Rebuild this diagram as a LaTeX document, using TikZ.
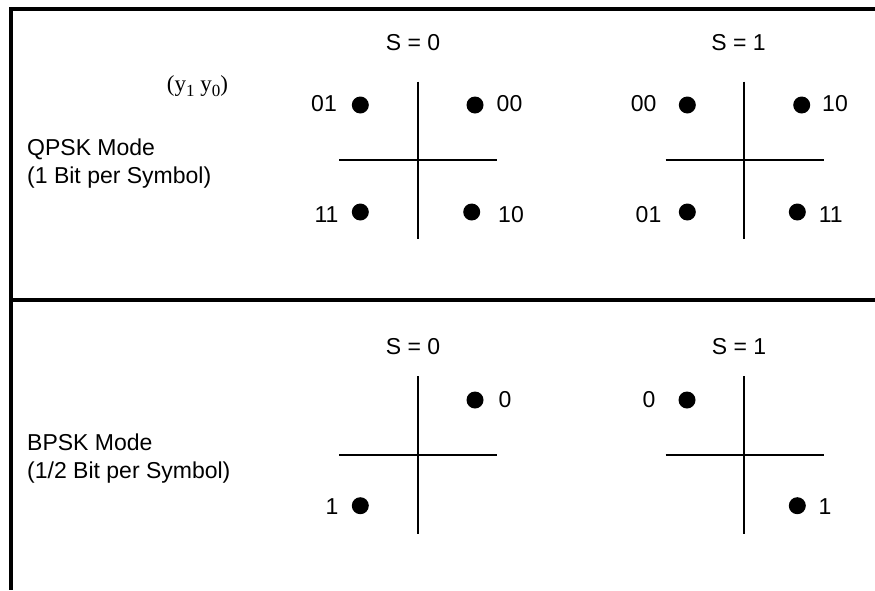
\documentclass[tikz,border=0pt]{standalone}
\usepackage{fontspec}
\setmainfont{Liberation Sans}
\newfontfamily\tnr{Liberation Serif}
\begin{document}
\begin{tikzpicture}[x=1pt,y=-1pt,
  frame/.style={line width=4.4pt},
  axis/.style={line width=2pt},
  dot/.style={circle,fill=black,inner sep=0pt,minimum size=17pt},
  lab/.style={inner sep=0pt,font=\fontsize{23}{28}\selectfont},
  ]
\useasboundingbox (0,0) rectangle (875,590);
% frame
\draw[frame] (875,9) -- (11.2,9) -- (11.2,590);
\draw[frame] (11.2,300) -- (875,300);

% headers
\node[lab,anchor=base] (h1) at (413,50) {S = 0};
\node[lab,anchor=base] (h2) at (738.5,50) {S = 1};
\node[lab,anchor=base] (h3) at (413,354) {S = 0};
\node[lab,anchor=base] (h4) at (739,354) {S = 1};

% mode labels
\node[lab,anchor=base west] (qm1) at (27,155.5) {QPSK Mode};
\node[lab,anchor=base west] (qm2) at (27,183.3) {(1 Bit per Symbol)};
\node[lab,anchor=base west] (bm1) at (27,450.5) {BPSK Mode};
\node[lab,anchor=base west] (bm2) at (27,478.3) {(1/2 Bit per Symbol)};

% bit order
\node[inner sep=0pt,anchor=base,font=\tnr\fontsize{23}{27}\selectfont] (yy) at (197.5,91.5)
  {(y\raisebox{-4.5pt}{\fontsize{17}{17}\selectfont 1} y\raisebox{-4.5pt}{\fontsize{17}{17}\selectfont 0})};

% QPSK S=0
\draw[axis] (417.7,81.7) -- (417.7,239.3);
\draw[axis] (339,160) -- (497.3,160);
\node[dot] (qa1) at (360.3,105) {};
\node[dot] (qa2) at (475,105) {};
\node[dot] (qa3) at (360.3,212) {};
\node[dot] (qa4) at (471.7,212) {};
\node[lab] (la1) at (324,104) {01};
\node[lab] (la2) at (509.5,104) {00};
\node[lab] (la3) at (326.5,214.5) {11};
\node[lab] (la4) at (511,214.5) {10};

% QPSK S=1
\draw[axis] (744.3,81.7) -- (744.3,239.3);
\draw[axis] (665.7,160) -- (824,160);
\node[dot] (qb1) at (687.3,105) {};
\node[dot] (qb2) at (801.7,105) {};
\node[dot] (qb3) at (687.3,212) {};
\node[dot] (qb4) at (797.3,212) {};
\node[lab] (lb1) at (643.7,104) {00};
\node[lab] (lb2) at (835,104) {10};
\node[lab] (lb3) at (648.5,214.5) {01};
\node[lab] (lb4) at (830.7,214.5) {11};

% BPSK S=0
\draw[axis] (417.7,376) -- (417.7,534);
\draw[axis] (339,455) -- (497.3,455);
\node[dot] (ba1) at (475,400) {};
\node[dot] (ba2) at (360.3,505.7) {};
\node[lab] (lc1) at (505,400) {0};
\node[lab] (lc2) at (332,506.5) {1};

% BPSK S=1
\draw[axis] (744.3,376) -- (744.3,534);
\draw[axis] (665.7,455) -- (824,455);
\node[dot] (bb1) at (687,400) {};
\node[dot] (bb2) at (797.3,505.7) {};
\node[lab] (ld1) at (649,400) {0};
\node[lab] (ld2) at (825,506.5) {1};
\end{tikzpicture}
\end{document}
